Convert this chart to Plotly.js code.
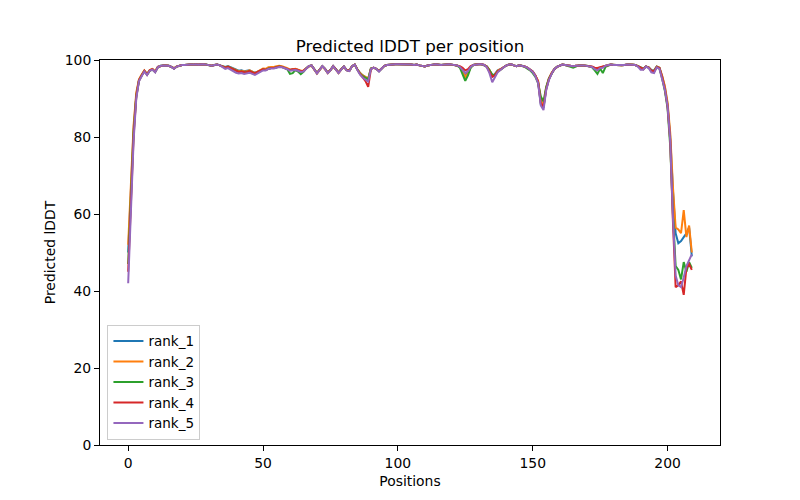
<!DOCTYPE html>
<html>
<head>
<meta charset="utf-8">
<script src="https://cdn.plot.ly/plotly-3.0.1.min.js"></script>
<style>html,body{margin:0;padding:0;background:#fff;}#chart{width:800px;height:500px;}</style>
</head>
<body>
<div id="chart"></div>
<script>
const seriesNames = ["rank_1", "rank_2", "rank_3", "rank_4", "rank_5"];
const seriesColors = ["#1f77b4", "#ff7f0e", "#2ca02c", "#d62728", "#9467bd"];

const rank_1 = [50,66,82,91,94.8,96,97.2,96.2,97.3,97.6,
96.9,98.2,98.5,98.6,98.6,98.5,98.2,97.8,98.3,98.6,
98.7,98.7,98.8,98.8,98.8,98.9,98.8,98.9,98.9,98.8,
98.6,98.5,98.7,98.8,98.6,98.3,98.2,98.4,98.1,97.7,
97.4,97.2,97.3,97.1,97.2,97.3,97.0,96.7,97.0,97.4,
97.6,97.5,97.8,97.9,97.9,98.1,98.3,98.2,98.0,97.8,
97.4,97.6,97.6,97.4,97.1,97.2,97.8,98.4,98.6,97.6,
96.6,97.5,98.4,97.7,96.7,97.4,98.4,97.6,96.7,97.6,
98.3,97.4,97.2,98.4,98.8,97.6,96.6,96.0,95.6,95.0,
97.8,98.0,97.7,97.1,97.8,98.5,98.7,98.8,98.9,98.9,
98.9,98.9,98.8,98.9,98.9,98.8,98.7,98.8,98.6,98.4,
98.3,98.6,98.8,98.8,98.9,98.8,98.7,98.8,98.9,98.9,
98.8,98.7,98.6,98.2,97.5,96.0,96.8,98.2,98.7,98.9,
98.9,98.9,98.7,98.3,97.3,95.8,96.4,97.3,97.6,98.1,
98.5,98.8,98.9,98.6,98.4,98.6,98.5,98.3,98.0,97.6,
97.0,96.0,94.3,88.5,87.6,92.5,95.0,96.5,97.6,98.2,
98.6,98.8,98.7,98.6,98.6,98.4,98.5,98.6,98.6,98.6,
98.5,98.4,98.2,97.8,97.7,98.0,98.3,98.6,98.7,98.8,
98.7,98.7,98.6,98.6,98.7,98.8,98.8,98.8,98.7,98.4,
98.0,97.8,98.3,98.1,97.4,97.3,98.3,98.0,95.8,93.0,
88.5,80,66,55,52.4,53,54,55,56.5,49];

const rank_2 = [52,68,83,91.5,95,96.2,97.3,96.4,97.4,97.7,
97.0,98.2,98.5,98.6,98.6,98.5,98.2,97.9,98.3,98.6,
98.7,98.7,98.8,98.8,98.8,98.9,98.8,98.9,98.9,98.8,
98.6,98.5,98.7,98.8,98.6,98.3,98.1,98.3,98.0,97.6,
97.3,97.1,97.2,97.0,97.1,97.3,97.0,96.6,97.0,97.5,
97.8,97.7,98.1,98.2,98.2,98.4,98.5,98.4,98.2,97.9,
97.5,97.7,97.7,97.5,97.2,97.3,97.8,98.3,98.5,97.4,
96.5,97.4,98.3,97.6,96.6,97.3,98.3,97.5,96.6,97.5,
98.2,97.4,97.2,98.4,98.8,97.6,96.6,96.0,95.6,95.2,
97.8,98.0,97.7,97.2,97.8,98.5,98.7,98.8,98.9,98.9,
98.9,98.9,98.8,98.9,98.9,98.8,98.7,98.8,98.6,98.4,
98.3,98.6,98.8,98.8,98.9,98.8,98.7,98.8,98.9,98.9,
98.8,98.7,98.6,98.1,97.3,95.6,96.5,98.1,98.7,98.9,
98.9,98.9,98.7,98.3,97.4,96.0,96.2,97.2,97.6,98.1,
98.5,98.8,98.9,98.6,98.4,98.6,98.5,98.3,98.0,97.5,
96.9,95.9,94.6,89.5,88.3,92.8,95.2,96.6,97.6,98.2,
98.6,98.8,98.7,98.6,98.6,98.4,98.5,98.6,98.6,98.6,
98.5,98.4,98.2,97.8,97.6,98.0,98.3,98.6,98.7,98.8,
98.7,98.7,98.6,98.6,98.7,98.8,98.8,98.8,98.7,98.4,
98.0,97.7,98.3,98.1,97.3,97.2,98.3,98.0,95.9,93.2,
89,81,67,56.5,56,55,61,54,57,50];

const rank_3 = [47,64,81,90.5,94.6,96,97.1,96.3,97.2,97.5,
96.9,98.1,98.5,98.6,98.6,98.5,98.2,97.8,98.3,98.6,
98.7,98.7,98.8,98.8,98.8,98.9,98.8,98.9,98.8,98.8,
98.6,98.5,98.7,98.8,98.6,98.3,98.0,98.2,97.9,97.4,
97.1,96.9,97.0,96.8,96.9,97.1,96.8,96.4,96.8,97.2,
97.5,97.4,97.8,97.9,97.9,98.1,98.3,98.2,98.0,97.6,
96.4,96.6,97.4,97.0,96.3,96.9,97.8,98.4,98.6,97.5,
96.6,97.5,98.4,97.7,96.7,97.4,98.4,97.6,96.7,97.6,
98.3,97.4,97.2,98.4,98.8,97.5,96.4,95.8,95.4,95.0,
97.8,98.0,97.7,97.1,97.8,98.5,98.7,98.8,98.9,98.9,
98.9,98.9,98.8,98.9,98.9,98.8,98.7,98.8,98.6,98.4,
98.3,98.6,98.8,98.8,98.9,98.8,98.7,98.8,98.9,98.9,
98.8,98.7,98.5,98.0,96.5,94.6,96.0,98.0,98.7,98.9,
98.9,98.9,98.7,98.3,97.3,96.2,96.0,97.0,97.4,98.0,
98.5,98.8,98.9,98.6,98.4,98.6,98.5,98.2,97.8,97.3,
96.6,95.6,94.0,90.5,89.2,93.0,95.2,96.6,97.6,98.2,
98.6,98.8,98.7,98.5,98.3,98.0,98.3,98.6,98.6,98.6,
98.5,98.4,98.1,97.3,96.4,97.8,96.6,98.2,98.6,98.8,
98.7,98.7,98.6,98.6,98.7,98.8,98.8,98.8,98.7,98.4,
97.9,97.6,98.3,98.0,97.2,97.0,98.2,97.8,95.2,92.0,
87.5,77.5,60,46.5,45.5,43,47.5,45,47.5,46];

const rank_4 = [45,62,80,90.5,94.7,96,97.2,96.2,97.3,97.6,
96.9,98.2,98.5,98.6,98.6,98.5,98.2,97.8,98.3,98.6,
98.7,98.7,98.8,98.8,98.8,98.9,98.8,98.9,98.9,98.8,
98.6,98.5,98.7,98.8,98.6,98.3,98.0,98.2,97.9,97.4,
97.1,96.9,97.0,96.8,96.9,97.1,96.8,96.5,96.9,97.3,
97.6,97.5,97.8,97.9,97.9,98.1,98.3,98.2,98.0,97.8,
97.4,97.6,97.6,97.4,97.1,97.2,97.8,98.4,98.6,97.6,
96.6,97.5,98.4,97.7,96.7,97.4,98.4,97.6,96.7,97.6,
98.3,97.4,97.2,98.4,98.8,97.5,96.3,95.5,94.5,93.0,
97.6,98.0,97.7,97.1,97.8,98.5,98.7,98.8,98.9,98.9,
98.9,98.9,98.8,98.9,98.9,98.8,98.7,98.8,98.6,98.4,
98.3,98.6,98.8,98.8,98.9,98.8,98.7,98.8,98.9,98.9,
98.8,98.7,98.6,98.4,98.0,97.3,97.6,98.4,98.7,98.9,
98.9,98.9,98.7,98.2,97.0,95.6,96.0,97.0,97.5,98.1,
98.5,98.8,98.9,98.6,98.4,98.6,98.5,98.3,98.0,97.6,
97.0,96.0,94.4,88.8,87.9,92.4,95.0,96.5,97.6,98.2,
98.6,98.8,98.7,98.6,98.6,98.4,98.5,98.6,98.6,98.6,
98.5,98.4,98.3,98.0,97.9,98.1,98.3,98.6,98.7,98.8,
98.7,98.7,98.6,98.6,98.7,98.8,98.8,98.8,98.7,98.4,
97.9,97.6,98.3,98.0,97.2,97.0,98.2,97.9,95.5,92.5,
88,79,58,41,41.5,42.5,39,46,47,45.5];

const rank_5 = [42,60,79,90,94.5,95.8,97.0,96.1,97.2,97.5,
96.8,98.1,98.5,98.6,98.6,98.5,98.2,97.7,98.3,98.6,
98.7,98.7,98.8,98.8,98.8,98.9,98.8,98.9,98.9,98.8,
98.6,98.5,98.7,98.8,98.6,98.2,97.7,97.9,97.5,97.0,
96.7,96.5,96.6,96.4,96.5,96.7,96.4,96.1,96.5,96.9,
97.3,97.3,97.7,97.8,97.8,98.0,98.2,98.1,97.9,97.6,
97.2,97.4,97.4,97.2,96.9,97.0,97.7,98.4,98.6,97.5,
96.5,97.4,98.4,97.6,96.6,97.3,98.4,97.5,96.6,97.5,
98.3,97.3,97.1,98.4,98.8,97.4,96.2,95.4,94.8,94.4,
97.6,98.0,97.7,97.0,97.8,98.5,98.7,98.8,98.9,98.9,
98.9,98.9,98.8,98.9,98.9,98.8,98.7,98.8,98.6,98.4,
98.3,98.6,98.8,98.8,98.9,98.8,98.7,98.8,98.9,98.9,
98.8,98.7,98.6,98.2,97.5,96.6,97.1,98.2,98.7,98.9,
98.9,98.9,98.7,98.1,96.5,94.2,95.4,96.8,97.4,98.0,
98.5,98.8,98.9,98.6,98.4,98.6,98.5,98.3,98.0,97.5,
96.9,95.8,94.0,88.2,87.0,92.2,94.8,96.4,97.6,98.2,
98.6,98.8,98.7,98.6,98.6,98.4,98.5,98.6,98.6,98.6,
98.5,98.4,98.2,97.6,97.3,97.9,98.0,98.5,98.7,98.8,
98.7,98.7,98.6,98.6,98.7,98.8,98.8,98.8,98.7,98.3,
97.5,97.5,98.3,97.9,96.8,96.6,98.1,97.7,95.3,92.3,
88,79,59,44,41.5,41,43.5,46.5,48,49.5];

const xTicks = [0, 50, 100, 150, 200];
const yTicks = [0, 20, 40, 60, 80, 100];

const allSeries = [rank_1, rank_2, rank_3, rank_4, rank_5];
const positions = rank_1.map((_, i) => i);

const FONT = "DejaVu Sans, sans-serif";
const traces = allSeries.map((ys, k) => ({
  type: "scatter",
  mode: "lines",
  name: seriesNames[k],
  x: positions,
  y: ys,
  line: {color: seriesColors[k], width: 2}
}));

const n = positions.length - 1;
const layout = {
  width: 800, height: 500,
  margin: {l: 100, r: 80, t: 60, b: 55, pad: 0},
  paper_bgcolor: "#fff", plot_bgcolor: "#fff",
  font: {family: FONT, size: 13.9, color: "#000"},
  title: {text: "Predicted lDDT per position", font: {family: FONT, size: 16.7, color: "#000"},
          x: 0.5, xref: "paper", y: 1, yref: "paper", yanchor: "bottom", pad: {b: 8}},
  xaxis: {
    range: [-0.05 * n, n * 1.05], tickvals: xTicks, ticktext: xTicks.map(String),
    showgrid: false, zeroline: false, showline: true, mirror: true, linecolor: "#000", linewidth: 1,
    ticks: "outside", ticklen: 5, tickwidth: 1, tickcolor: "#000",
    tickfont: {family: FONT, size: 13.9, color: "#000"},
    title: {text: "Positions", font: {family: FONT, size: 13.9, color: "#000"}, standoff: 6}
  },
  yaxis: {
    range: [0, 100], tickvals: yTicks, ticktext: yTicks.map(String),
    showgrid: false, zeroline: false, showline: true, mirror: true, linecolor: "#000", linewidth: 1,
    ticks: "outside", ticklen: 5, tickwidth: 1, tickcolor: "#000",
    tickfont: {family: FONT, size: 13.9, color: "#000"},
    title: {text: "Predicted lDDT", font: {family: FONT, size: 13.9, color: "#000"}, standoff: 5}
  },
  showlegend: true,
  legend: {
    x: 0.012, y: 0.014, xanchor: "left", yanchor: "bottom",
    bgcolor: "rgba(255,255,255,0.8)", bordercolor: "#cccccc", borderwidth: 1,
    font: {family: FONT, size: 13.5, color: "#000"},
    tracegroupgap: 0
  }
};

Plotly.newPlot("chart", traces, layout, {displayModeBar: false, staticPlot: true});
</script>
</body>
</html>
